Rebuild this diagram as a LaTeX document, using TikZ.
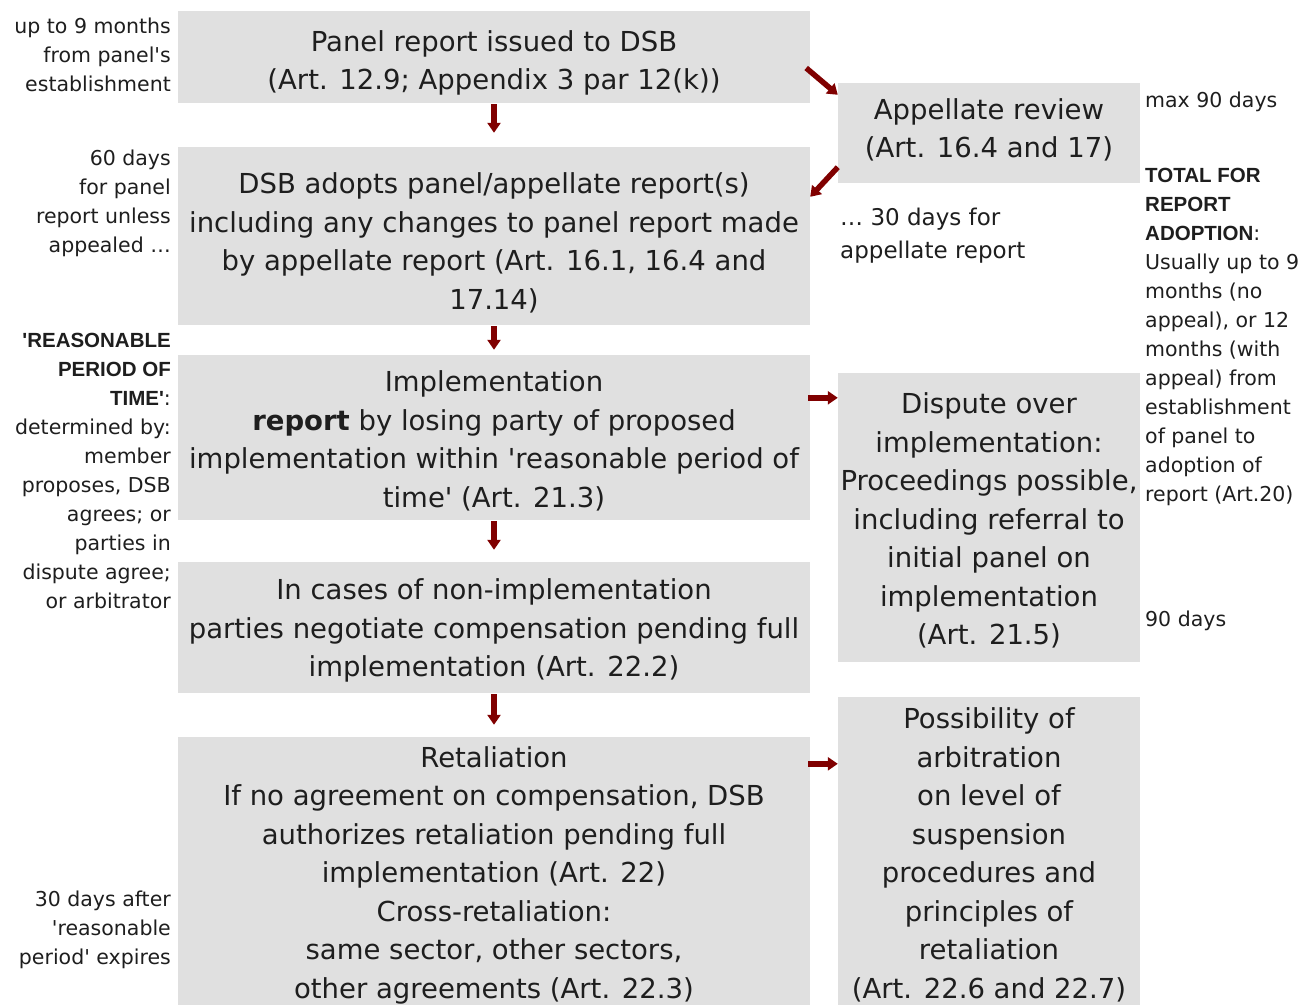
\documentclass[tikz,border=0pt]{standalone}
\usepackage{fontspec}
\setmainfont{DejaVu Sans}
\newfontfamily\arialf{Liberation Sans}
\usetikzlibrary{arrows.meta}
\definecolor{boxgray}{RGB}{224,224,224}
\definecolor{arrred}{RGB}{128,0,0}
\definecolor{txt}{RGB}{30,30,30}
\newcommand{\bcap}[1]{{\arialf\bfseries #1}}
\newcommand{\sq}{\textquotesingle}
\newcommand{\dn}[1]{\rule{0pt}{#1}}
\begin{document}
\begin{tikzpicture}[x=1pt,y=-1pt,
  box/.style={fill=boxgray, inner sep=0pt, align=center, text=txt,
    font=\fontsize{27.5}{38.5}\selectfont, minimum width=632pt},
  rbox/.style={box, minimum width=302pt},
  raise/.style={execute at end node={\rule[-#1]{0pt}{0pt}}},
  side/.style={inner sep=0pt, text=txt, font=\fontsize{20.5}{29}\selectfont},
  arr/.style={draw=arrred, line width=5.5pt, -{Triangle[length=10pt,width=13pt]}}]
\useasboundingbox (0,0) rectangle (1307,1005);

% main column
\node[box, minimum height=92pt] (b1) at (494,57)
  {\dn{33pt}Panel report issued to DSB\\(Art. 12.9; Appendix 3 par 12(k))};
\node[box, minimum height=178pt] (b2) at (494,236)
  {\dn{35pt}DSB adopts panel/appellate report(s)\\including any changes to panel report made\\by appellate report (Art. 16.1, 16.4 and\\17.14)};
\node[box, minimum height=165pt] (b3) at (494,437.5)
  {\dn{28pt}Implementation\\\textbf{report} by losing party of proposed\\implementation within \sq reasonable period of\\time\sq{} (Art. 21.3)};
\node[box, minimum height=131pt] (b4) at (494,627.5)
  {\dn{27pt}In cases of non-implementation\\parties negotiate compensation pending full\\implementation (Art. 22.2)};
\node[box, minimum height=268pt] (b5) at (494,871)
  {\dn{29pt}Retaliation\\If no agreement on compensation, DSB\\authorizes retaliation pending full\\implementation (Art. 22)\\Cross-retaliation:\\same sector, other sectors,\\other agreements (Art. 22.3)};

% right column
\node[rbox, raise=10pt, minimum height=100pt] (a) at (989,133)
  {Appellate review\\(Art. 16.4 and 17)};
\node[rbox, minimum height=289pt] (d) at (989,517.5)
  {\dn{27pt}Dispute over\\implementation:\\Proceedings possible,\\including referral to\\initial panel on\\implementation\\(Art. 21.5)};
\node[rbox, minimum height=308pt] (p) at (989,851)
  {\dn{29pt}Possibility of\\arbitration\\on level of\\suspension\\procedures and\\principles of\\retaliation\\(Art. 22.6 and 22.7)};

% left notes
\node[side, anchor=north east, align=right] (l1) at (171,18)
  {up to 9 months\\from panel\sq s\\establishment};
\node[side, anchor=north east, align=right] (l2) at (171,150)
  {60 days\\for panel\\report unless\\appealed \dots};
\node[side, anchor=north east, align=right] (l3) at (171,333)
  {\bcap{\sq REASONABLE}\\\bcap{PERIOD OF}\\\bcap{TIME\sq}:\\determined by:\\member\\proposes, DSB\\agrees; or\\parties in\\dispute agree;\\or arbitrator};
\node[side, anchor=north east, align=right] (l4) at (171,891)
  {30 days after\\\sq reasonable\\period\sq{} expires};

% right notes
\node[side, anchor=north west, align=left] (r1) at (1145,92) {max 90 days};
\node[side, anchor=north west, align=left] (r2) at (1145,168)
  {\bcap{TOTAL FOR}\\\bcap{REPORT}\\\bcap{ADOPTION}:\\Usually up to 9\\months (no\\appeal), or 12\\months (with\\appeal) from\\establishment\\of panel to\\adoption of\\report (Art.20)};
\node[side, anchor=north west, align=left] (r3) at (1145,611) {90 days};
\node[side, anchor=north west, align=left, font=\fontsize{23}{33}\selectfont] (r4) at (840,208)
  {\dots{} 30 days for\\appellate report};

% connectors
\draw[arr] ([yshift=-1pt]b1.south) -- ([yshift=14pt]b2.north);
\draw[arr] ([yshift=-1pt]b2.south) -- ([yshift=5pt]b3.north);
\draw[arr] ([yshift=-1pt]b3.south) -- ([yshift=12pt]b4.north);
\draw[arr] ([yshift=-1pt]b4.south) -- ([yshift=12pt]b5.north);
\draw[arr] ([shift={(-4pt,-11pt)}]b1.east) -- ([yshift=-12pt]a.north west);
\draw[arr] ([yshift=16pt]a.south west) -- ([yshift=-50pt]b2.north east);
\coordinate (h1) at ([shift={(-2pt,-43pt)}]b3.north east);
\coordinate (h2) at ([shift={(-2pt,-27pt)}]b5.north east);
\draw[arr] (h1) -- (h1 -| d.west);
\draw[arr] (h2) -- (h2 -| p.west);
\end{tikzpicture}
\end{document}
